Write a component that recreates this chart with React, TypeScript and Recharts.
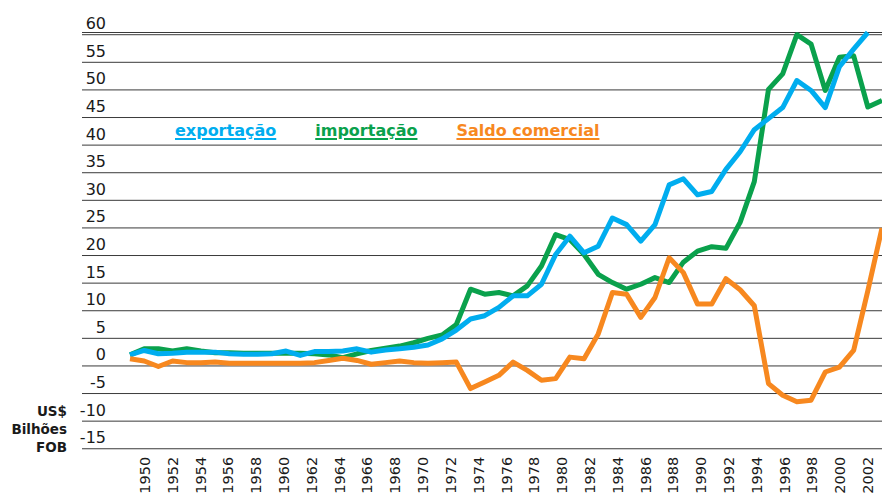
import React from 'react';
import { LineChart, Line, XAxis, YAxis, CartesianGrid } from 'recharts';

const years = [
  1950, 1951, 1952, 1953, 1954, 1955, 1956, 1957, 1958, 1959, 1960, 1961, 1962,
  1963, 1964, 1965, 1966, 1967, 1968, 1969, 1970, 1971, 1972, 1973, 1974, 1975, 1976,
  1977, 1978, 1979, 1980, 1981, 1982, 1983, 1984, 1985, 1986, 1987, 1988, 1989, 1990,
  1991, 1992, 1993, 1994, 1995, 1996, 1997, 1998, 1999, 2000, 2001, 2002, 2003,
];

const exportacao: (number | null)[] = [
  2.0, 2.8, 2.2, 2.3, 2.5, 2.5, 2.5, 2.2, 2.1, 2.1, 2.2, 2.7, 1.9,
  2.6, 2.6, 2.7, 3.1, 2.5, 2.9, 3.1, 3.4, 3.8, 4.9, 6.5, 8.5, 9.1, 10.6,
  12.7, 12.7, 14.8, 20.2, 23.5, 20.5, 21.7, 26.8, 25.6, 22.6, 25.6, 32.8, 33.9, 31.0,
  31.6, 35.6, 38.8, 42.8, 44.8, 46.8, 51.7, 49.9, 46.8, 54.2, 57.4, 60.4, null,
];

const importacao: (number | null)[] = [
  2.0, 3.1, 3.1, 2.7, 3.1, 2.7, 2.4, 2.4, 2.3, 2.3, 2.3, 2.3, 2.3,
  2.2, 2.0, 1.5, 2.2, 2.8, 3.2, 3.6, 4.2, 5.0, 5.6, 7.5, 13.9, 13.0, 13.3,
  12.7, 14.5, 18.1, 23.8, 22.9, 20.2, 16.6, 15.1, 13.9, 14.8, 16.0, 15.1, 18.8, 20.8,
  21.6, 21.3, 26.0, 33.4, 50.1, 52.9, 60.0, 58.3, 49.9, 55.9, 56.2, 46.9, 48.1,
];

const saldoComercial: (number | null)[] = [
  1.3, 0.9, -0.1, 0.9, 0.6, 0.6, 0.7, 0.5, 0.5, 0.5, 0.5, 0.5, 0.5,
  0.6, 1.0, 1.4, 1.0, 0.3, 0.6, 0.9, 0.6, 0.5, 0.6, 0.7, -4.1, -2.9, -1.7,
  0.7, -0.8, -2.6, -2.3, 1.6, 1.3, 5.8, 13.3, 13.0, 8.8, 12.4, 19.6, 16.9, 11.2,
  11.2, 15.8, 13.8, 10.9, -3.2, -5.3, -6.5, -6.2, -1.1, -0.2, 2.8, 13.6, 25.0,
];

const xTicks = [
  1950, 1952, 1954, 1956, 1958, 1960, 1962, 1964, 1966, 1968, 1970, 1972, 1974,
  1976, 1978, 1980, 1982, 1984, 1986, 1988, 1990, 1992, 1994, 1996, 1998, 2000, 2002,
];

const yTicks = [-15, -10, -5, 0, 5, 10, 15, 20, 25, 30, 35, 40, 45, 50, 55, 60];

const unitLines = ['US$', 'Bilhões', 'FOB'];

const legendItems = [
  { key: 'exportacao', name: 'exportação', color: '#00ADEF' },
  { key: 'importacao', name: 'importação', color: '#0AA14C' },
  { key: 'saldo', name: 'Saldo comercial', color: '#F7881F' },
];

// drawing order: green under blue, orange on top
const drawOrder = ['importacao', 'exportacao', 'saldo'];

const data = years.map((year, i) => ({
  year,
  exportacao: exportacao[i],
  importacao: importacao[i],
  saldo: saldoComercial[i],
}));

const FONT = '"DejaVu Sans", Verdana, sans-serif';

const XTick = (props: any) => {
  const { x, y, payload } = props;
  const ty = y + 8;
  return (
    <text
      x={x}
      y={ty}
      transform={`rotate(-90, ${x}, ${ty})`}
      textAnchor="end"
      dominantBaseline="central"
      fontSize={14.5}
      fontFamily={FONT}
      fill="#1a1a1a"
    >
      {payload.value}
    </text>
  );
};

const YTick = (props: any) => {
  const { x, y, payload } = props;
  return (
    <text x={x + 24} y={y - 5.5} textAnchor="end" fontSize={16} fontFamily={FONT} fill="#1a1a1a">
      {payload.value}
    </text>
  );
};

export default function App() {
  return (
    <div style={{ position: 'absolute', left: 0, top: 0, width: 882, height: 496, background: '#fff' }}>
      <LineChart
        width={882}
        height={496}
        data={data}
        margin={{ top: 32.5, right: 0, bottom: 0, left: 0 }}
      >
        <CartesianGrid xAxisId="lab" vertical={false} stroke="#3a3a3a" strokeWidth={1} />
        <XAxis
          xAxisId="dat"
          dataKey="year"
          type="number"
          domain={[1946.617, 2003]}
          orientation="top"
          height={0}
          hide
          allowDataOverflow
        />
        <XAxis
          xAxisId="lab"
          dataKey="year"
          type="number"
          domain={[1945.47, 2003.0]}
          ticks={xTicks}
          interval={0}
          axisLine={false}
          tickLine={false}
          tickSize={0}
          tickMargin={0}
          height={47.25}
          tick={<XTick />}
          allowDataOverflow
        />
        <YAxis
          type="number"
          domain={[-15, 60]}
          ticks={yTicks}
          interval={0}
          axisLine={false}
          tickLine={false}
          tickSize={0}
          tickMargin={0}
          width={82}
          tick={<YTick />}
        />
        {drawOrder.map((k) => {
          const it = legendItems.find((l) => l.key === k)!;
          return (
            <Line
              key={k}
              xAxisId="dat"
              type="linear"
              dataKey={k}
              name={it.name}
              stroke={it.color}
              strokeWidth={5}
              strokeLinejoin="round"
              dot={false}
              activeDot={false}
              isAnimationActive={false}
            />
          );
        })}
      </LineChart>
      <div
        style={{
          position: 'absolute',
          left: 175,
          top: 122.5,
          display: 'flex',
          fontFamily: FONT,
          fontWeight: 'bold',
          fontSize: 16,
          lineHeight: '16px',
        }}
      >
        {legendItems.map((it) => (
          <span
            key={it.key}
            style={{
              color: it.color,
              marginRight: 39,
              textDecoration: 'underline',
              textDecorationThickness: '2px',
              textUnderlineOffset: '2px',
              whiteSpace: 'nowrap',
            }}
          >
            {it.name}
          </span>
        ))}
      </div>
      <div
        style={{
          position: 'absolute',
          left: 0,
          top: 401.5,
          width: 67,
          textAlign: 'right',
          fontFamily: FONT,
          fontWeight: 'bold',
          fontSize: 13.5,
          lineHeight: '18px',
          color: '#1a1a1a',
        }}
      >
        {unitLines.map((l) => (
          <div key={l}>{l}</div>
        ))}
      </div>
    </div>
  );
}
